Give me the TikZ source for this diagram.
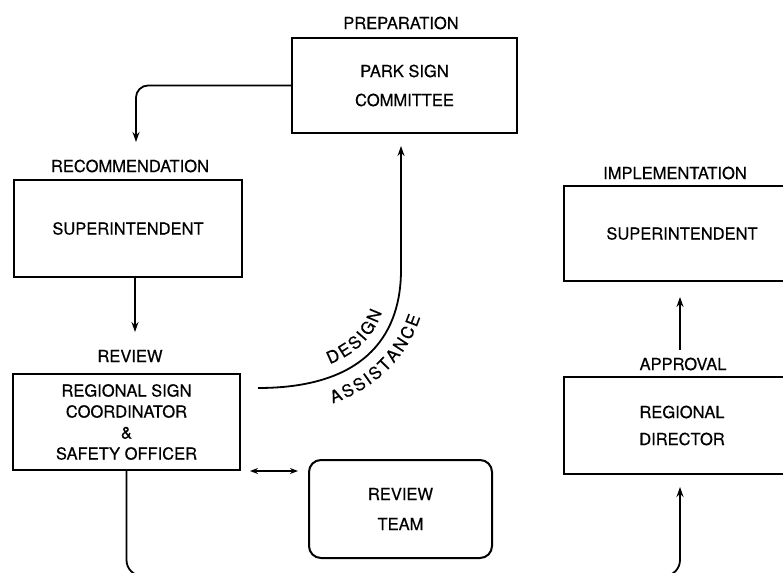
\documentclass[tikz,border=0pt]{standalone}
\usepackage{fontspec}
\setmainfont{TeX Gyre Heros}[FakeBold=0.4]
\newfontfamily\dfont{TeX Gyre Heros}[FakeBold=0.4]
\newfontfamily\cfont{TeX Gyre Heros}[FakeBold=0.4,Scale=1.0001]
\usetikzlibrary{arrows.meta,decorations.text}
\begin{document}
\begin{tikzpicture}[x=1pt,y=1pt,
  box/.style={draw, line width=2pt, inner sep=0pt, align=center, font=\dfont\fontsize{16.5}{21}\selectfont},
  lbl/.style={font=\dfont\fontsize{16.5}{19}\selectfont, inner sep=0pt},
  conn/.style={line width=1.8pt, -{Stealth[length=10pt,width=7pt]}},
  dconn/.style={line width=1.8pt, {Stealth[length=8pt,width=6pt]}-{Stealth[length=8pt,width=6pt]}}]
\useasboundingbox (0,-572) rectangle (783,0);
\clip (0,-572) rectangle (783,0);
% nodes
\node[box, minimum width=225, minimum height=95] (park) at (404.5,-85.5) {PARK SIGN\\[8pt]COMMITTEE};
\node[lbl] (prep) at (401,-23) {PREPARATION};
\node[box, minimum width=228, minimum height=97] (rec) at (128,-228.5) {SUPERINTENDENT};
\node[lbl] (recl) at (130,-166) {RECOMMENDATION};
\node[box, minimum width=227, minimum height=96] (rev) at (126.5,-422) {REGIONAL SIGN\\COORDINATOR\\\&\\SAFETY OFFICER};
\node[lbl] (revl) at (130,-356) {REVIEW};
\node[box, rounded corners=12pt, minimum width=183, minimum height=98] (team) at (400.5,-509) {REVIEW\\[9pt]TEAM};
\node[box, minimum width=236, minimum height=95] (impl) at (682,-233.5) {SUPERINTENDENT};
\node[lbl] (impll) at (675,-173) {IMPLEMENTATION};
\node[box, minimum width=236, minimum height=97] (dir) at (682,-425.5) {REGIONAL\\[6pt]DIRECTOR};
\node[lbl] (appl) at (683,-364) {APPROVAL};
% coordinates
\coordinate (a1) at (136,-142);
\coordinate (a2s) at (135,-277);
\coordinate (a2) at (135,-332);
\coordinate (c0) at (258,-388);
\coordinate (c1) at (401,-146);
\coordinate (d0) at (250,-471);
\coordinate (d1) at (298,-471);
\coordinate (b1) at (680,-487);
\coordinate (e0) at (680,-350);
\coordinate (e1) at (680,-297);
% connectors
\draw[conn, rounded corners=12pt] (park.west) -| (a1);
\draw[conn] (a2s) -- (a2);
\draw[conn] (c0) .. controls (370,-388) and (401,-330) .. (401,-270) -- (c1);
\draw[dconn] (d0) -- (d1);
\draw[conn, rounded corners=16pt] (rev.south) -- (126.5,-576) -- (680,-576) -- (b1);
\draw[conn] (e0) -- (e1);
% curved labels
\path[decorate, decoration={text along path, text={|\cfont\fontsize{17}{19}\selectfont\fontdimen2\font=2.2pt|D E S I G N}, text align={left indent=73pt}}]
  (258,-375) .. controls (364,-375) and (388,-326) .. (388,-270);
\path[decorate, decoration={text along path, text={|\cfont\fontsize{17}{19}\selectfont\fontdimen2\font=2.2pt|A S S I S T A N C E}, text align={left indent=76pt}}]
  (258,-415) .. controls (382,-415) and (428,-338) .. (428,-270);
\end{tikzpicture}
\end{document}
